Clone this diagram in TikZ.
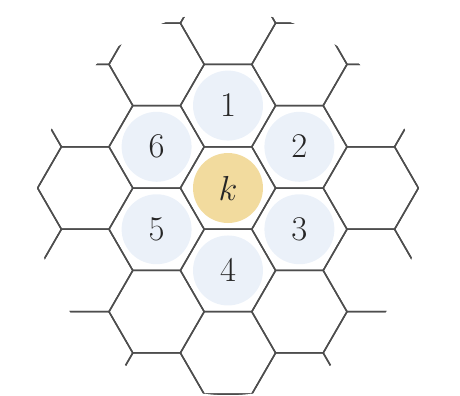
\documentclass[tikz,border=0pt]{standalone}
\usepackage{amsmath}
\usepackage{tikz}

\definecolor{cellblue}{HTML}{EBF1F9}
\definecolor{cellgold}{HTML}{F2DB9E}
\definecolor{gridgray}{HTML}{4D4D4D}

\begin{document}
\begin{tikzpicture}[
  hexedge/.style={draw=gridgray, line width=0.9pt, line join=miter},
  nbrcell/.style={circle, fill=cellblue, minimum size=1.47cm, inner sep=0pt,
                  font=\huge, text=black!85},
  homecell/.style={nbrcell, fill=cellgold}
]

  % Frame: hex radius 1, cell k at the origin
  \useasboundingbox (-4.790,-4.349) rectangle (4.874,3.950);

  % --- Centre cell and its six neighbours ---
  % flat-top hexagons: centre (1.5 i, sqrt(3) (j + i/2))
  \node[homecell] (k) at (0,0) {$k$};

  % upper neighbour
  \node[nbrcell] (n1) at (0, 1.732) {$1$};
  % upper right
  \node[nbrcell] (n2) at (1.5, 0.866) {$2$};
  % lower right
  \node[nbrcell] (n3) at (1.5,-0.866) {$3$};
  % lower neighbour
  \node[nbrcell] (n4) at (0,-1.732) {$4$};
  % lower left
  \node[nbrcell] (n5) at (-1.5,-0.866) {$5$};
  % upper left
  \node[nbrcell] (n6) at (-1.5, 0.866) {$6$};

  % --- Hex grid, cut off by a circle ---
  \begin{scope}
    \clip (0,-0.326) circle (4.023);
    \foreach \i in {-4,...,4} {
      \foreach \j in {-5,...,5} {
        \pgfmathsetmacro{\cx}{1.5*\i}
        \pgfmathsetmacro{\cy}{sqrt(3)*(\j+0.5*\i)}
        \draw[hexedge] (\cx,\cy) +(0:1) -- +(60:1) -- +(120:1)
          -- +(180:1) -- +(240:1) -- +(300:1) -- cycle;
      }
    }
  \end{scope}

\end{tikzpicture}
\end{document}
